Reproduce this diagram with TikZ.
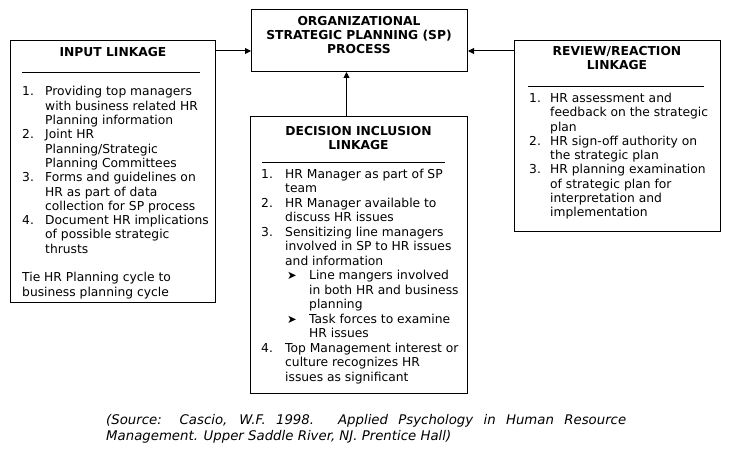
\documentclass[tikz,border=0pt]{standalone}
\usepackage{fontspec}
\setmainfont{DejaVu Sans}
\usetikzlibrary{arrows.meta,positioning}
\tikzset{linkbox/.style={draw, line width=1pt, anchor=north west, inner sep=0pt}, head/.style={anchor=base, inner sep=0pt, font=\fontsize{12.3}{14}\selectfont\bfseries}, items/.style={anchor=base west, inner sep=0pt, font=\fontsize{12.3}{14.3}\selectfont}, link/.style={-{Triangle[length=6pt,width=6pt]}, line width=1pt}, rulebar/.style={line width=1pt}, source/.style={anchor=north west, inner sep=0pt, text width=520pt, align=justify, font=\fontsize{13.3}{16}\selectfont\itshape}}
\newcommand{\subitm}{\hspace{2pt}\makebox[22pt][l]{\fontsize{11.5}{11.5}\selectfont ➤}}

\begin{document}
\begin{tikzpicture}[x=1pt,y=-1pt]
\useasboundingbox (0,0) rectangle (729,449);
\node[linkbox, minimum width=205pt, minimum height=262pt] (input) at (10,40) {};
\node[linkbox, minimum width=216pt, minimum height=62pt] (sp) at (251,9) {};
\node[linkbox, minimum width=217pt, minimum height=277pt] (dec) at (250,116) {};
\node[linkbox, minimum width=206pt, minimum height=191pt] (review) at (514,40) {};
% headings
\node[head] (inhead) at (113,57) {\begin{tabular}[t]{@{}c@{}}INPUT LINKAGE\end{tabular}};
\node[head] (sphead) at (359,25.5) {\begin{tabular}[t]{@{}c@{}}ORGANIZATIONAL\\STRATEGIC PLANNING (SP)\\PROCESS\end{tabular}};
\node[head] (dechead) at (358.5,135.5) {\begin{tabular}[t]{@{}c@{}}DECISION INCLUSION\\LINKAGE\end{tabular}};
\node[head] (rvhead) at (617,55.5) {\begin{tabular}[t]{@{}c@{}}REVIEW/REACTION\\LINKAGE\end{tabular}};
\draw[rulebar] (22,73) -- (200,73);
\draw[rulebar] (262,163) -- (445,163);
\draw[rulebar] (528,87) -- (704,87);
% lists
\node[items] (inlist) at (22,96) {\begin{tabular}[t]{@{}p{23pt}@{}l@{}}
1. & Providing top managers\\ & with business related HR\\ & Planning information\\
2. & Joint HR\\ & Planning/Strategic\\ & Planning Committees\\
3. & Forms and guidelines on\\ & HR as part of data\\ & collection for SP process\\
4. & Document HR implications\\ & of possible strategic\\ & thrusts\\
\multicolumn{2}{@{}l@{}}{}\\
\multicolumn{2}{@{}l@{}}{Tie HR Planning cycle to}\\
\multicolumn{2}{@{}l@{}}{business planning cycle}
\end{tabular}};
\node[items, font=\fontsize{12.3}{14.5}\selectfont] (declist) at (261,178.5) {\begin{tabular}[t]{@{}p{24pt}@{}l@{}}
1. & HR Manager as part of SP\\ & team\\
2. & HR Manager available to\\ & discuss HR issues\\
3. & Sensitizing line managers\\ & involved in SP to HR issues\\ & and information\\
 & \subitm Line mangers involved\\ & \hspace{24pt}in both HR and business\\ & \hspace{24pt}planning\\
 & \subitm Task forces to examine\\ & \hspace{24pt}HR issues\\
4. & Top Management interest or\\ & culture recognizes HR\\ & issues as significant
\end{tabular}};
\node[items] (rvlist) at (529,102.5) {\begin{tabular}[t]{@{}p{21pt}@{}l@{}}
1. & HR assessment and\\ & feedback on the strategic\\ & plan\\
2. & HR sign-off authority on\\ & the strategic plan\\
3. & HR planning examination\\ & of strategic plan for\\ & interpretation and\\ & implementation
\end{tabular}};
% links
\draw[link] ([yshift=-11pt]input.north east) coordinate (inA) -- (inA -| sp.west);
\draw[link] ([yshift=-11pt]review.north west) coordinate (rvA) -- (rvA -| sp.east);
\draw[link] ([xshift=-12.5pt]dec.north) coordinate (dcA) -- (dcA |- sp.south);
\node[source] (src) at (106,414) {(Source: Cascio, W.F. 1998. Applied Psychology in Human Resource\linebreak Management. Upper Saddle River, NJ. Prentice Hall)};
\end{tikzpicture}
\end{document}
